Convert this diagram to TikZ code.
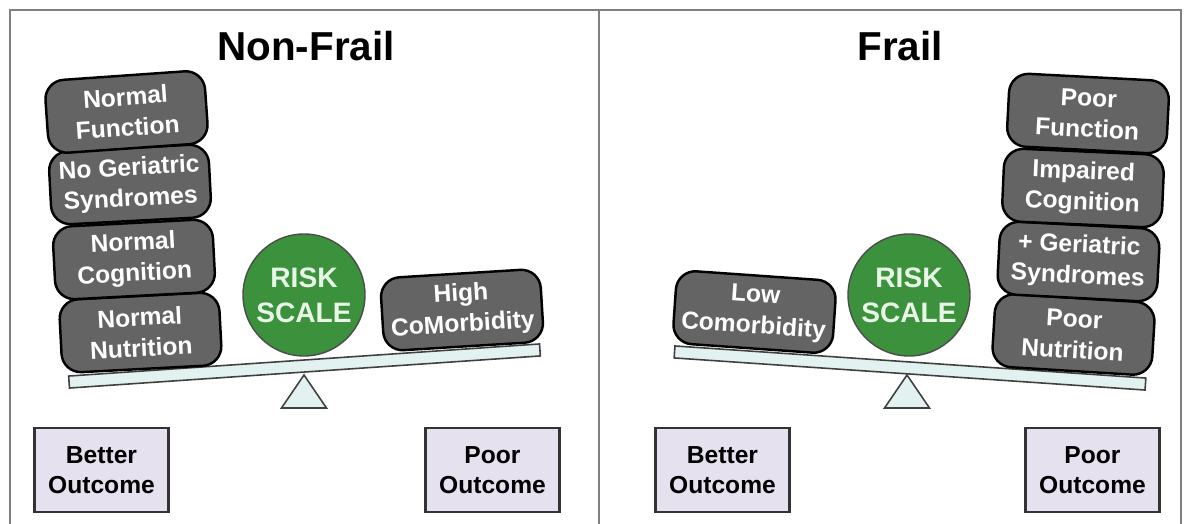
\documentclass[tikz,border=0pt]{standalone}
\usepackage{fontspec}
\setmainfont{Liberation Sans}
\usepackage{tikz}
\usetikzlibrary{calc}
\definecolor{slab}{RGB}{100,100,100}
\definecolor{riskgreen}{RGB}{60,145,60}
\definecolor{riskwhite}{RGB}{232,246,232}
\definecolor{plank}{RGB}{226,242,240}
\definecolor{outfill}{RGB}{229,225,238}
\tikzset{
  blk/.style={draw=black,line width=1.4pt,fill=slab,rounded corners=11pt,text=white,font=\fontsize{14}{17.5}\selectfont\bfseries,align=center,minimum width=3.2cm,minimum height=1.46cm,inner sep=1pt},
  risk/.style={circle,draw=black!70,line width=0.8pt,fill=riskgreen,text=riskwhite,font=\fontsize{16}{20}\selectfont\bfseries,align=center,minimum size=2.44cm,inner sep=0pt},
  beam/.style={draw=black!75,line width=0.9pt,fill=plank,minimum width=9.44cm,minimum height=0.24cm,inner sep=0pt},
  pivot/.style={draw=black!75,line width=0.9pt,fill=plank},
  outc/.style={draw=black!80,line width=1.2pt,fill=outfill,font=\fontsize{14}{17}\selectfont\bfseries,align=center,minimum width=2.68cm,minimum height=1.68cm,inner sep=1pt},
  ttl/.style={font=\fontsize{23}{28}\selectfont\bfseries},
  frame/.style={draw=black!50,line width=0.8pt}
}
\begin{document}
\begin{tikzpicture}
\useasboundingbox (0,0) rectangle (23.72,-10.48);
\draw[frame] (0.2,-10.48) -- (0.2,-0.2) -- (23.62,-0.2) -- (23.62,-10.48);
\draw[frame] (11.98,-0.2) -- (11.98,-10.48);
% non-frail side
\node[ttl] (tnf) at (6.12,-0.92) {Non-Frail};
\node[beam,rotate=3.9] (lbeam) at (6.09,-7.32) {};
\coordinate (lfp) at (6.08,-7.50);
\draw[pivot] (lfp) -- ++(0.45,-0.66) -- ++(-0.9,0) -- cycle;
\node[blk,rotate=3] (nn) at (2.81,-6.65) {Normal\\Nutrition};
\node[blk,rotate=3] (nc) at (2.68,-5.19) {Normal\\Cognition};
\node[blk,rotate=3] (ng) at (2.60,-3.69) {No Geriatric\\Syndromes};
\node[blk,rotate=4] (nf) at (2.53,-2.24) {Normal\\Function};
\node[blk,rotate=3.5] (hc) at (9.24,-6.20) {High\\CoMorbidity};
\node[risk] (lrisk) at (6.08,-5.90) {RISK\\SCALE};
\node[outc] (lbetter) at (2.03,-9.40) {Better\\Outcome};
\node[outc] (lpoor) at (9.85,-9.40) {Poor\\Outcome};
% frail side
\node[ttl] (tfr) at (18.0,-0.92) {Frail};
\node[beam,rotate=-3.9] (rbeam) at (18.20,-7.36) {};
\coordinate (rfp) at (18.14,-7.50);
\draw[pivot] (rfp) -- ++(0.45,-0.66) -- ++(-0.9,0) -- cycle;
\node[blk,rotate=-3.5] (pn) at (21.47,-6.69) {Poor\\Nutrition};
\node[blk,rotate=-3] (gs) at (21.57,-5.23) {+ Geriatric\\Syndromes};
\node[blk,rotate=-2.5] (ic) at (21.66,-3.76) {Impaired\\Cognition};
\node[blk,rotate=-3] (pf) at (21.76,-2.27) {Poor\\Function};
\node[blk,rotate=-4] (lc) at (15.09,-6.24) {Low\\Comorbidity};
\node[risk] (rrisk) at (18.18,-5.90) {RISK\\SCALE};
\node[outc] (rbetter) at (14.45,-9.40) {Better\\Outcome};
\node[outc] (rpoor) at (21.85,-9.40) {Poor\\Outcome};
\end{tikzpicture}
\end{document}
